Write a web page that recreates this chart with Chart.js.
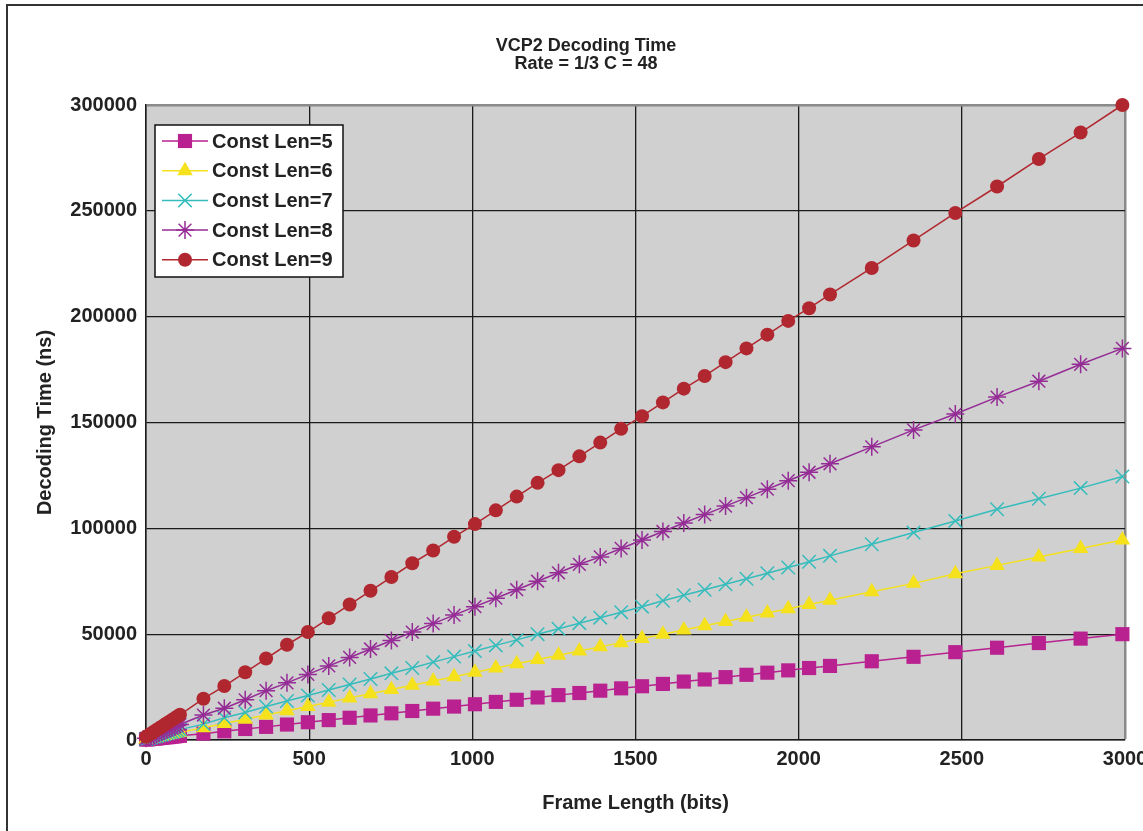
<!DOCTYPE html>
<html>
<head>
<meta charset="utf-8">
<title>VCP2 Decoding Time</title>
<script src="https://cdn.jsdelivr.net/npm/chart.js@4.4.1/dist/chart.umd.min.js"></script>
<style>
  html, body { margin: 0; padding: 0; background: #fff; }
  #wrap { position: relative; width: 1143px; height: 831px; overflow: hidden; }
  #frame { position: absolute; left: 6px; top: 4px; width: 1200px; height: 900px;
           border-left: 2px solid #333; border-top: 2px solid #333; }
  canvas { position: absolute; left: 0; top: 0; }
</style>
</head>
<body>
<div id="wrap">
  <div id="frame"></div>
  <canvas id="myChart" width="1143" height="831"></canvas>
</div>
<script>
// frame length (bits) - same x values for every series
const frameLength = [0, 8, 16, 24, 32, 40, 48, 56, 64, 72, 80, 88, 96, 104,
  176, 240, 304, 368, 432, 496, 560, 624, 688, 752, 816, 880, 944, 1008, 1072, 1136,
  1200, 1264, 1328, 1392, 1456, 1520, 1584, 1648, 1712, 1776, 1840, 1904, 1968, 2032, 2096,
  2224, 2352, 2480, 2608, 2736, 2864, 2992];

// decoding time (ns)
const len5 = [200, 300, 500, 600, 700, 900, 1000, 1200, 1300, 1400, 1600, 1700, 1900, 2000,
  3000, 4100, 5200, 6200, 7300, 8400, 9400, 10500, 11600, 12600,
  13700, 14800, 15800, 16900, 18000, 19000, 20100, 21200, 22200, 23300,
  24400, 25400, 26500, 27600, 28600, 29700, 30800, 31800, 32900, 34000, 35000,
  37200, 39300, 41500, 43600, 45800, 47900, 50000];
const len6 = [300, 600, 800, 1100, 1300, 1600, 1800, 2100, 2300, 2600, 2900, 3100, 3400, 3600,
  5800, 7800, 9800, 11800, 13800, 15800, 17800, 19900, 21900, 23900,
  25900, 27900, 29900, 32000, 34000, 36000, 38000, 40000, 42000, 44000,
  46000, 48000, 50000, 52000, 54000, 56000, 58000, 60000, 62000, 64000, 66000,
  70000, 74000, 78500, 82500, 86500, 90500, 94500];
const len7 = [500, 800, 1200, 1500, 1800, 2200, 2500, 2800, 3200, 3500, 3800, 4200, 4500, 4900,
  7500, 10500, 13000, 15800, 18400, 21000, 23600, 26200, 28800, 31500,
  34000, 36800, 39400, 42000, 44700, 47300, 50000, 52600, 55200, 57800,
  60400, 63000, 65800, 68400, 71000, 73600, 76200, 78800, 81500, 84200, 87000,
  92500, 98000, 103500, 109000, 114000, 119000, 124500];
const len8 = [800, 1300, 1800, 2300, 2800, 3300, 3800, 4300, 4800, 5300, 5800, 6300, 6800, 7300,
  11800, 15000, 19000, 23300, 27000, 31000, 35000, 39000, 43000, 47000,
  51000, 55000, 59000, 63000, 67000, 71000, 75000, 79000, 83000, 86500,
  90500, 94500, 98500, 102500, 106500, 110500, 114500, 118500, 122500, 126500, 130500,
  138500, 146500, 154000, 162000, 169500, 177500, 185000];
const len9 = [1500, 2300, 3100, 3900, 4700, 5500, 6300, 7100, 7900, 8700, 9500, 10300, 11100, 11900,
  19500, 25500, 32000, 38500, 45000, 51000, 57500, 64000, 70500, 77000,
  83500, 89500, 96000, 102000, 108500, 115000, 121500, 127500, 134000, 140500,
  147000, 153000, 159500, 166000, 172000, 178500, 185000, 191500, 198000, 204000, 210500,
  223000, 236000, 249000, 261500, 274500, 287000, 300000];

const seriesLabels = ['Const Len=5', 'Const Len=6', 'Const Len=7', 'Const Len=8', 'Const Len=9'];
const seriesValues = [len5, len6, len7, len8, len9];

const xTicks = [0, 500, 1000, 1500, 2000, 2500, 3000];
const yTicks = [0, 50000, 100000, 150000, 200000, 250000, 300000];

// look of each series
const looks = [
  { color: '#b8218f', point: 'rect', r: 10, bw: 0 },
  { color: '#f5e21c', point: 'triangle', r: 9, bw: 0 },
  { color: '#35bcbc', point: 'crossRot', r: 9.5, bw: 1.5 },
  { color: '#952c96', point: 'star', r: 9, bw: 1.5 },
  { color: '#b1272f', point: 'circle', r: 7, bw: 0 }
];

const FONT = '"Liberation Sans", Arial, Helvetica, sans-serif';
Chart.defaults.font.family = FONT;
Chart.defaults.font.weight = 'bold';
Chart.defaults.color = '#222';

const plotBg = {
  id: 'plotBg',
  beforeDraw(chart) {
    const a = chart.chartArea;
    const ctx = chart.ctx;
    ctx.save();
    ctx.fillStyle = '#d0d0d0';
    ctx.fillRect(a.left, a.top, a.right - a.left, a.bottom - a.top);
    ctx.restore();
  }
};

// legend box in the upper left of the plot
const boxLegend = {
  id: 'boxLegend',
  afterDraw(chart) {
    const ctx = chart.ctx;
    const x = 155, y = 125, w = 188, h = 152;
    ctx.save();
    ctx.fillStyle = '#fff';
    ctx.fillRect(x, y, w, h);
    ctx.strokeStyle = '#111';
    ctx.lineWidth = 1.5;
    ctx.strokeRect(x, y, w, h);
    ctx.font = 'bold 20px ' + FONT;
    ctx.textBaseline = 'middle';
    chart.data.datasets.forEach((ds, i) => {
      const cy = y + 16 + i * 29.7;
      ctx.strokeStyle = ds.borderColor;
      ctx.lineWidth = 1.5;
      ctx.beginPath();
      ctx.moveTo(x + 7, cy);
      ctx.lineTo(x + 53, cy);
      ctx.stroke();
      ctx.fillStyle = ds.pointBackgroundColor;
      ctx.strokeStyle = ds.pointBorderColor;
      ctx.lineWidth = ds.pointBorderWidth;
      Chart.helpers.drawPoint(ctx, {
        pointStyle: ds.pointStyle, radius: ds.pointRadius,
        rotation: 0, borderWidth: ds.pointBorderWidth
      }, x + 30, cy);
      ctx.fillStyle = '#222';
      ctx.fillText(ds.label, x + 57, cy + 1);
    });
    ctx.restore();
  }
};

const datasets = seriesLabels.map((label, i) => ({
  label: label,
  data: frameLength.map((fl, j) => ({ x: fl, y: seriesValues[i][j] })),
  borderColor: looks[i].color,
  backgroundColor: looks[i].color,
  pointBackgroundColor: looks[i].color,
  pointBorderColor: looks[i].color,
  pointBorderWidth: looks[i].bw,
  pointStyle: looks[i].point,
  pointRadius: looks[i].r,
  borderWidth: 1.5,
  tension: 0,
  clip: false,
  order: 5 - i
}));

const edgeColor = (ctx, max) => ctx.tick && ctx.tick.value === max ? '#8a8a8a' : '#1a1a1a';
const edgeWidth = (ctx, max) => ctx.tick && ctx.tick.value === max ? 2.5 : 1.3;

const ctx = document.getElementById('myChart').getContext('2d');
const myChart = new Chart(ctx, {
  type: 'line',
  data: { datasets: datasets },
  plugins: [plotBg, boxLegend],
  options: {
    responsive: false,
    animation: false,
    layout: { padding: { left: 29, right: 0, top: 0, bottom: 0 } },
    plugins: {
      legend: { display: false },
      tooltip: { enabled: false },
      title: {
        display: true,
        text: ['VCP2 Decoding Time', 'Rate = 1/3 C = 48'],
        color: '#222',
        font: { size: 18, weight: 'bold', lineHeight: 1 },
        padding: { top: 37.5, bottom: 31.5 }
      }
    },
    scales: {
      x: {
        type: 'linear',
        min: 0,
        max: 3000,
        afterBuildTicks: s => { s.ticks = xTicks.map(v => ({ value: v })); },
        afterFit: s => { s.height = 91; s.paddingRight = 18; s.paddingLeft = 0; },
        ticks: { font: { size: 20, weight: 'bold' }, color: '#222', padding: 7, callback: v => String(v) },
        grid: { color: c => edgeColor(c, 3000), lineWidth: c => edgeWidth(c, 3000), drawTicks: false },
        border: { color: '#1a1a1a', width: 1.5 },
        title: {
          display: true,
          text: 'Frame Length (bits)',
          color: '#222',
          font: { size: 20, weight: 'bold' },
          padding: { top: 0, bottom: 16 }
        }
      },
      y: {
        min: 0,
        max: 300000,
        afterBuildTicks: s => { s.ticks = yTicks.map(v => ({ value: v })); },
        afterFit: s => { s.width = 117; },
        ticks: { font: { size: 20, weight: 'bold' }, color: '#222', padding: 9, callback: v => String(v) },
        grid: { color: c => edgeColor(c, 300000), lineWidth: c => edgeWidth(c, 300000), drawTicks: false },
        border: { color: '#1a1a1a', width: 1.5 },
        title: {
          display: true,
          text: 'Decoding Time (ns)',
          color: '#222',
          font: { size: 20, weight: 'bold' },
          padding: { top: 4, bottom: 0 }
        }
      }
    }
  }
});
</script>
</body>
</html>
